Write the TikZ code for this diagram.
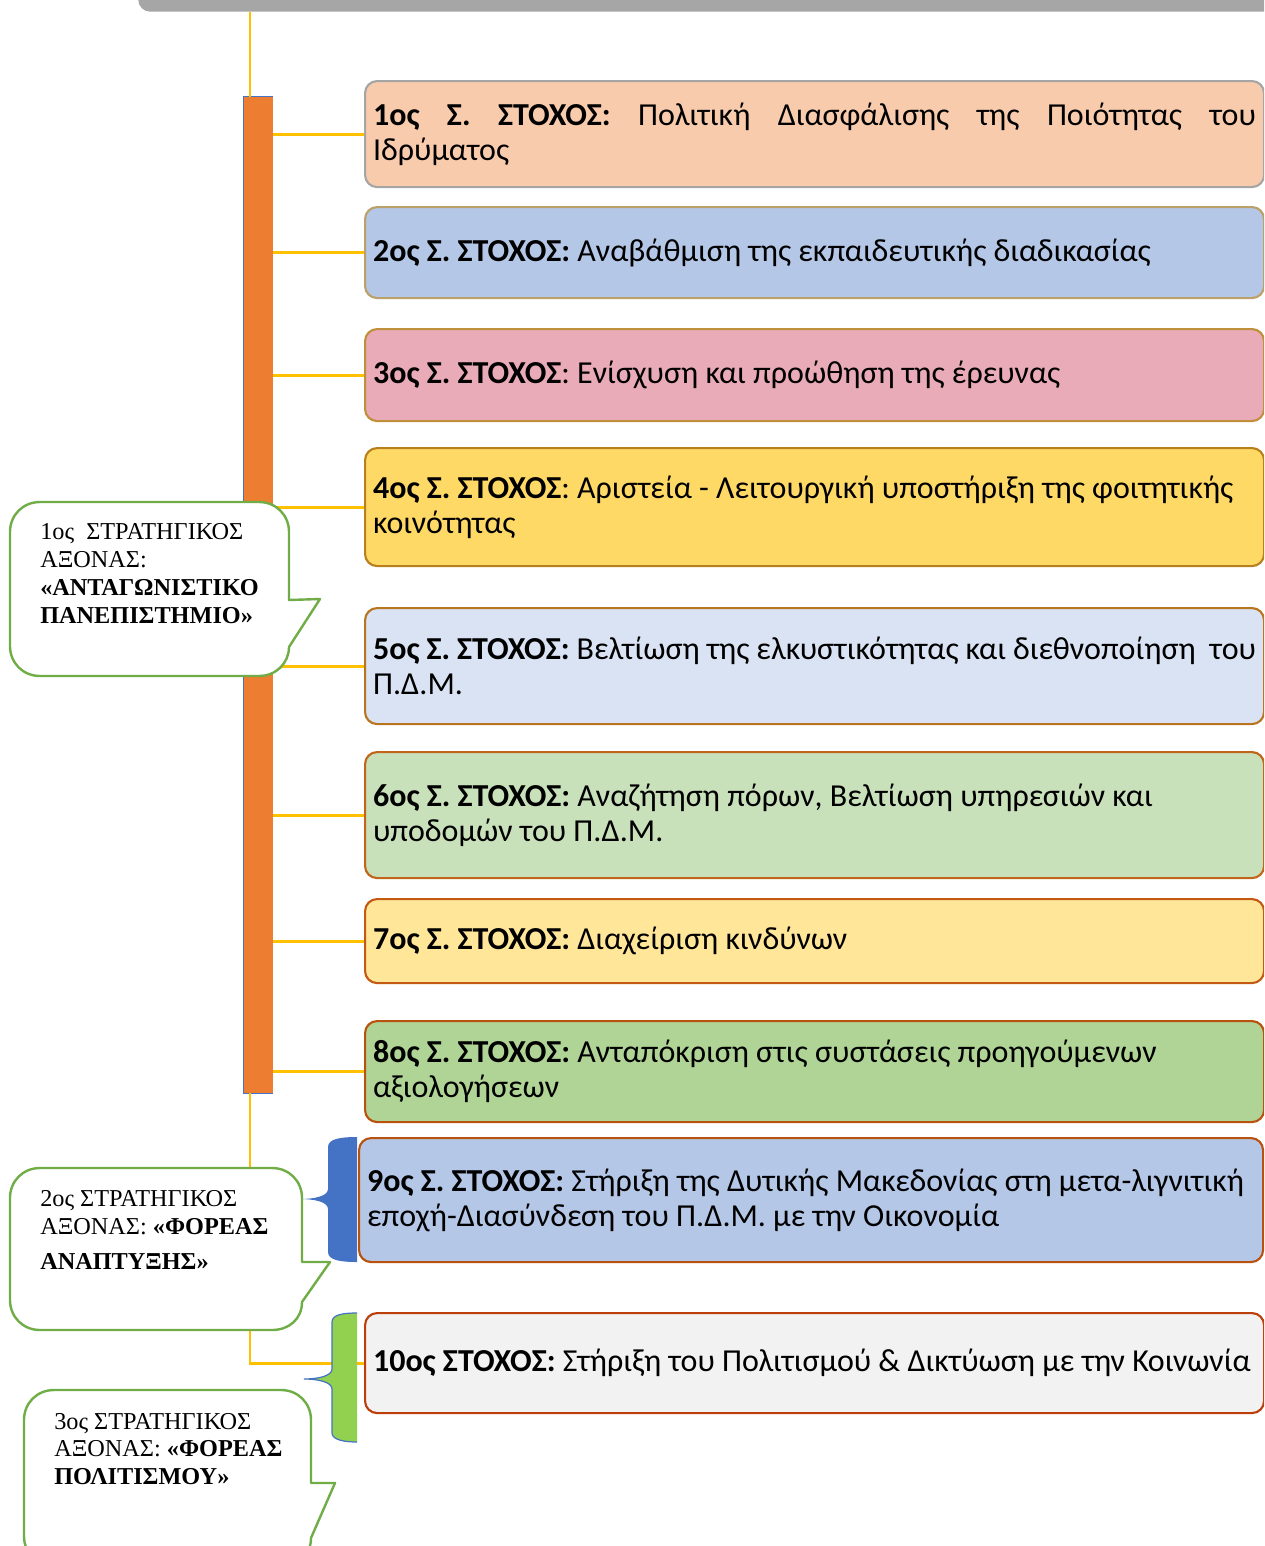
\documentclass[tikz,border=0pt]{standalone}
\usepackage{fontspec}
\usepackage{tikz}
\setmainfont{Carlito}
\newfontfamily\goalfont{Carlito}
\newfontfamily\axisfont{Liberation Serif}

\definecolor{barGray}{HTML}{A6A6A6}
\definecolor{trunkYellow}{HTML}{FFC000}
\definecolor{spineOrange}{HTML}{ED7D31}
\definecolor{edgeBlue}{HTML}{4472C4}
\definecolor{axisGreen}{HTML}{70AD47}
\definecolor{braceGreen}{HTML}{92D050}
\definecolor{fillA}{HTML}{F8CBAD}
\definecolor{fillB}{HTML}{B4C7E7}
\definecolor{fillC}{HTML}{EAABB8}
\definecolor{fillD}{HTML}{FFD966}
\definecolor{fillE}{HTML}{DAE3F3}
\definecolor{fillF}{HTML}{C9E1BA}
\definecolor{fillG}{HTML}{FFE699}
\definecolor{fillH}{HTML}{AFD496}
\definecolor{fillJ}{HTML}{F2F2F2}
\definecolor{lineA}{HTML}{A5A5A5}
\definecolor{lineB}{HTML}{BBA06A}
\definecolor{lineC}{HTML}{BF8F3C}
\definecolor{lineD}{HTML}{B8801C}
\definecolor{lineE}{HTML}{B8741E}
\definecolor{lineF}{HTML}{C0651A}
\definecolor{lineG}{HTML}{C25A12}
\definecolor{lineH}{HTML}{B9520F}
\definecolor{lineJ}{HTML}{BC3E0A}

\begin{document}
\frenchspacing
\begin{tikzpicture}[x=0.75pt,y=0.75pt,yscale=-1,xscale=1,
  goal/.style={draw, rounded corners=9pt, line width=1.6pt, anchor=north west,
    inner xsep=6pt, inner ysep=0pt, text width=662.25pt, align=flush left,
    font=\goalfont\fontsize{24}{26.25}\selectfont},
  branch/.style={trunkYellow, line width=2.2pt},
  axis/.style={draw=axisGreen, fill=white, line width=1.8pt, line join=round},
  axisText/.style={anchor=west, inner sep=0pt, align=flush left,
    font=\axisfont\fontsize{18.2}{20.8}\selectfont}]
\useasboundingbox (0,0) rectangle (1264,1546);
\clip (0,0) rectangle (1264,1546);

%Shape: Rounded Rectangle [head bar]
\node[fill=barGray, rounded corners=9pt, minimum width=900pt, minimum height=45pt,
  inner sep=0pt, anchor=south west] (head) at (138,12) {};
\coordinate (trunkTop) at (250,12);

%Shape: Rectangle [spine]
\node[fill=spineOrange, minimum width=21.75pt, minimum height=747pt, inner sep=0pt] (spine) at (258.5,595) {};
\draw[edgeBlue, line width=0.8pt] (spine.north east) -- (spine.north west) -- (spine.south west) -- (spine.south east);

%Shape: Goal boxes
\node[goal, fill=fillA, draw=lineA, minimum height=79.5pt] (g1) at (364,80)
  {\makebox[\hsize][s]{\textbf{1ος Σ. ΣΤΟΧΟΣ:} Πολιτική Διασφάλισης της Ποιότητας του}\\Ιδρύματος};
\node[goal, fill=fillB, draw=lineB, minimum height=68.25pt] (g2) at (364,206)
  {\textbf{2ος Σ. ΣΤΟΧΟΣ:} Αναβάθμιση της εκπαιδευτικής διαδικασίας};
\node[goal, fill=fillC, draw=lineC, minimum height=69pt] (g3) at (364,328)
  {\textbf{3ος Σ. ΣΤΟΧΟΣ}: Ενίσχυση και προώθηση της έρευνας};
\node[goal, fill=fillD, draw=lineD, minimum height=88.5pt] (g4) at (364,447)
  {\textbf{4ος Σ. ΣΤΟΧΟΣ}: Αριστεία - Λειτουργική υποστήριξη της φοιτητικής\\κοινότητας};
\node[goal, fill=fillE, draw=lineE, minimum height=87pt] (g5) at (364,607)
  {\makebox[\hsize][s]{\textbf{5ος Σ. ΣΤΟΧΟΣ:} Βελτίωση της ελκυστικότητας και διεθνοποίηση\ \ του}\\Π.Δ.Μ.};
\node[goal, fill=fillF, draw=lineF, minimum height=94.5pt] (g6) at (364,751)
  {\textbf{6ος Σ. ΣΤΟΧΟΣ:} Αναζήτηση πόρων, Βελτίωση υπηρεσιών και\\υποδομών του Π.Δ.Μ.};
\node[goal, fill=fillG, draw=lineG, minimum height=63pt] (g7) at (364,898)
  {\textbf{7ος Σ. ΣΤΟΧΟΣ:} Διαχείριση κινδύνων};
\node[goal, fill=fillH, draw=lineH, minimum height=75.75pt] (g8) at (364,1020)
  {\textbf{8ος Σ. ΣΤΟΧΟΣ:} Ανταπόκριση στις συστάσεις προηγούμενων\\αξιολογήσεων};
\node[goal, fill=fillB, draw=lineH, minimum height=93pt, text width=666pt] (g9) at (358,1137)
  {\textbf{9ος Σ. ΣΤΟΧΟΣ:} Στήριξη της Δυτικής Μακεδονίας στη μετα-λιγνιτική\\εποχή-Διασύνδεση του Π.Δ.Μ. με την Οικονομία};
\node[goal, fill=fillJ, draw=lineJ, minimum height=75pt] (g10) at (364,1312)
  {\textbf{10ος ΣΤΟΧΟΣ:} Στήριξη του Πολιτισμού \& Δικτύωση με την Κοινωνία};

%Straight Lines [branches]
\coordinate (tip9) at (300,1199);
\draw[branch] (trunkTop) -- (trunkTop |- spine.north);
\draw[branch] (trunkTop |- spine.south) -- (trunkTop |- g10.west) -- (g10.west);
\draw[branch] (trunkTop |- tip9) -- (tip9);
\foreach \g in {1,...,8}
  \draw[branch] (spine.east |- g\g.west) -- (g\g.west);

%Shape: Left Brace [blue]
\fill[edgeBlue] (357,1137) .. controls (340,1137) and (328,1139) .. (328,1147) -- (328,1189) .. controls (328,1196) and (315,1199) .. (tip9) .. controls (315,1199) and (328,1202) .. (328,1209) -- (328,1252) .. controls (328,1260) and (340,1262) .. (357,1262) -- cycle;
%Shape: Left Brace [green]
\filldraw[fill=braceGreen, draw=edgeBlue, line width=0.9pt] (357,1313) .. controls (345,1313) and (332,1314) .. (332,1322) -- (332,1369) .. controls (332,1376) and (318,1379) .. (304,1379) .. controls (318,1379) and (332,1382) .. (332,1389) -- (332,1433) .. controls (332,1440) and (345,1442) .. (357,1442);

%Shape: Callout [axis 1]
\draw[axis] (40,502) -- (259,502) .. controls (276,502) and (289,515) .. (289,532) -- (289,600) -- (320,599) -- (289,647) .. controls (289,663) and (276,676) .. (259,676) -- (40,676) .. controls (23,676) and (10,663) .. (10,646) -- (10,532) .. controls (10,515) and (23,502) .. (40,502) -- cycle;
%Shape: Callout [axis 2]
\draw[axis] (40,1168) -- (272,1168) .. controls (289,1168) and (302,1181) .. (302,1198) -- (302,1262) -- (330,1262) -- (302,1302) .. controls (302,1319) and (289,1330) .. (272,1330) -- (40,1330) .. controls (23,1330) and (10,1317) .. (10,1300) -- (10,1198) .. controls (10,1181) and (23,1168) .. (40,1168) -- cycle;
%Shape: Callout [axis 3]
\draw[axis] (54,1390) -- (281,1390) .. controls (298,1390) and (311,1403) .. (311,1420) -- (311,1483) -- (335,1483) -- (311,1538) .. controls (311,1555) and (298,1566) .. (281,1566) -- (54,1566) .. controls (37,1566) and (24,1553) .. (24,1536) -- (24,1420) .. controls (24,1403) and (37,1390) .. (54,1390) -- cycle;

% Text Node
\node[axisText] (ax1) at (40,573.5) {1ος\ \ ΣΤΡΑΤΗΓΙΚΟΣ\\ΑΞΟΝΑΣ:\\\textbf{«ΑΝΤΑΓΩΝΙΣΤΙΚΟ}\\\textbf{ΠΑΝΕΠΙΣΤΗΜΙΟ»}};
% Text Node
\node[axisText] (ax2) at (40,1230) {2ος ΣΤΡΑΤΗΓΙΚΟΣ\\ΑΞΟΝΑΣ: \textbf{«ΦΟΡΕΑΣ}\\[5pt]\textbf{ΑΝΑΠΤΥΞΗΣ»}};
% Text Node
\node[axisText] (ax3) at (54,1449) {3ος ΣΤΡΑΤΗΓΙΚΟΣ\\ΑΞΟΝΑΣ: \textbf{«ΦΟΡΕΑΣ}\\\textbf{ΠΟΛΙΤΙΣΜΟΥ»}};
\end{tikzpicture}
\end{document}
